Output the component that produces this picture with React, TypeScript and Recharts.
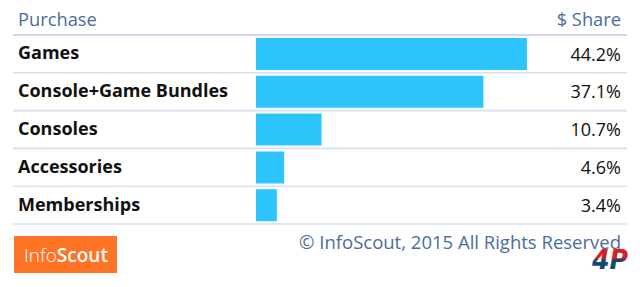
import React from 'react';
import { BarChart, Bar, XAxis, YAxis, LabelList } from 'recharts';

const categories = ['Games', 'Console+Game Bundles', 'Consoles', 'Accessories', 'Memberships'];
const shares = [44.2, 37.1, 10.7, 4.6, 3.4];
const headerLeft = 'Purchase';
const headerRight = '$ Share';
const copyright = '\u00A9 InfoScout, 2015 All Rights Reserved';

const data = categories.map((name, i) => ({ name, share: shares[i] }));

const FONT = '"Open Sans", Lato, sans-serif';
const BLUE_TEXT = '#4C6C9D';
const BAND = 37.8;

const CategoryTick = (props: any) => {
  const { y, payload, index } = props;
  return (
    <g>
      {index === 0 && (
        <line x1={13} x2={627} y1={y - BAND / 2} y2={y - BAND / 2} stroke="#BCCBE3" strokeWidth={1.6} />
      )}
      <line x1={13} x2={627} y1={y + BAND / 2} y2={y + BAND / 2} stroke="#D6E0F1" strokeWidth={1.6} />
      <text x={18} y={y + 5.5} fontFamily={FONT} fontSize={18} fontWeight={700} fill="#111111" textAnchor="start">
        {payload.value}
      </text>
    </g>
  );
};

const ShareLabel = (props: any) => {
  const { y, height, value } = props;
  return (
    <text x={621} y={y + height / 2 + 6.5} fontFamily={FONT} fontSize={18} fill="#111111" textAnchor="end">
      {`${Number(value).toFixed(1)}%`}
    </text>
  );
};

export default function App() {
  return (
    <div style={{ position: 'absolute', left: 0, top: 0, width: 640, height: 287, background: '#ffffff' }}>
      <BarChart
        width={640}
        height={287}
        layout="vertical"
        data={data}
        margin={{ top: 35, right: 77.5, bottom: 63, left: 0 }}
        barCategoryGap={0}
      >
        <XAxis type="number" domain={[0, 50]} hide height={0} />
        <YAxis
          type="category"
          dataKey="name"
          width={256}
          axisLine={false}
          tickLine={false}
          tick={<CategoryTick />}
          interval={0}
        />
        <Bar dataKey="share" fill="#2DC5FC" barSize={32} isAnimationActive={false}>
          <LabelList dataKey="share" content={<ShareLabel />} />
        </Bar>
      </BarChart>
      <svg
        width={640}
        height={287}
        style={{ position: 'absolute', left: 0, top: 0, pointerEvents: 'none' }}
      >
        <defs>
          <linearGradient id="fourp" x1="0" y1="0" x2="0" y2="1">
            <stop offset="0" stopColor="#D51F26" />
            <stop offset="0.5" stopColor="#D51F26" />
            <stop offset="0.5" stopColor="#16486E" />
            <stop offset="1" stopColor="#16486E" />
          </linearGradient>
        </defs>
        <text x={18} y={26} fontFamily={FONT} fontSize={18.3} fill={BLUE_TEXT}>{headerLeft}</text>
        <text x={621} y={26} fontFamily={FONT} fontSize={18.3} fill={BLUE_TEXT} textAnchor="end">{headerRight}</text>
        <rect x={14} y={236} width={103} height={37} fill="#FF7424" />
        <text x={24} y={262} fontFamily={FONT} fontSize={19} fill="#FFFFFF">
          <tspan fontWeight={300}>Info</tspan>
          <tspan fontWeight={600}>Scout</tspan>
        </text>
        <text x={621} y={249} fontFamily={FONT} fontSize={18.5} fill={BLUE_TEXT} textAnchor="end">{copyright}</text>
        <text
          x={592}
          y={269}
          fontFamily="'DejaVu Sans', sans-serif"
          fontSize={27}
          fontWeight={900}
          fontStyle="italic"
          fill="url(#fourp)"
          textLength={36}
          lengthAdjust="spacingAndGlyphs"
        >
          4P
        </text>
      </svg>
    </div>
  );
}
